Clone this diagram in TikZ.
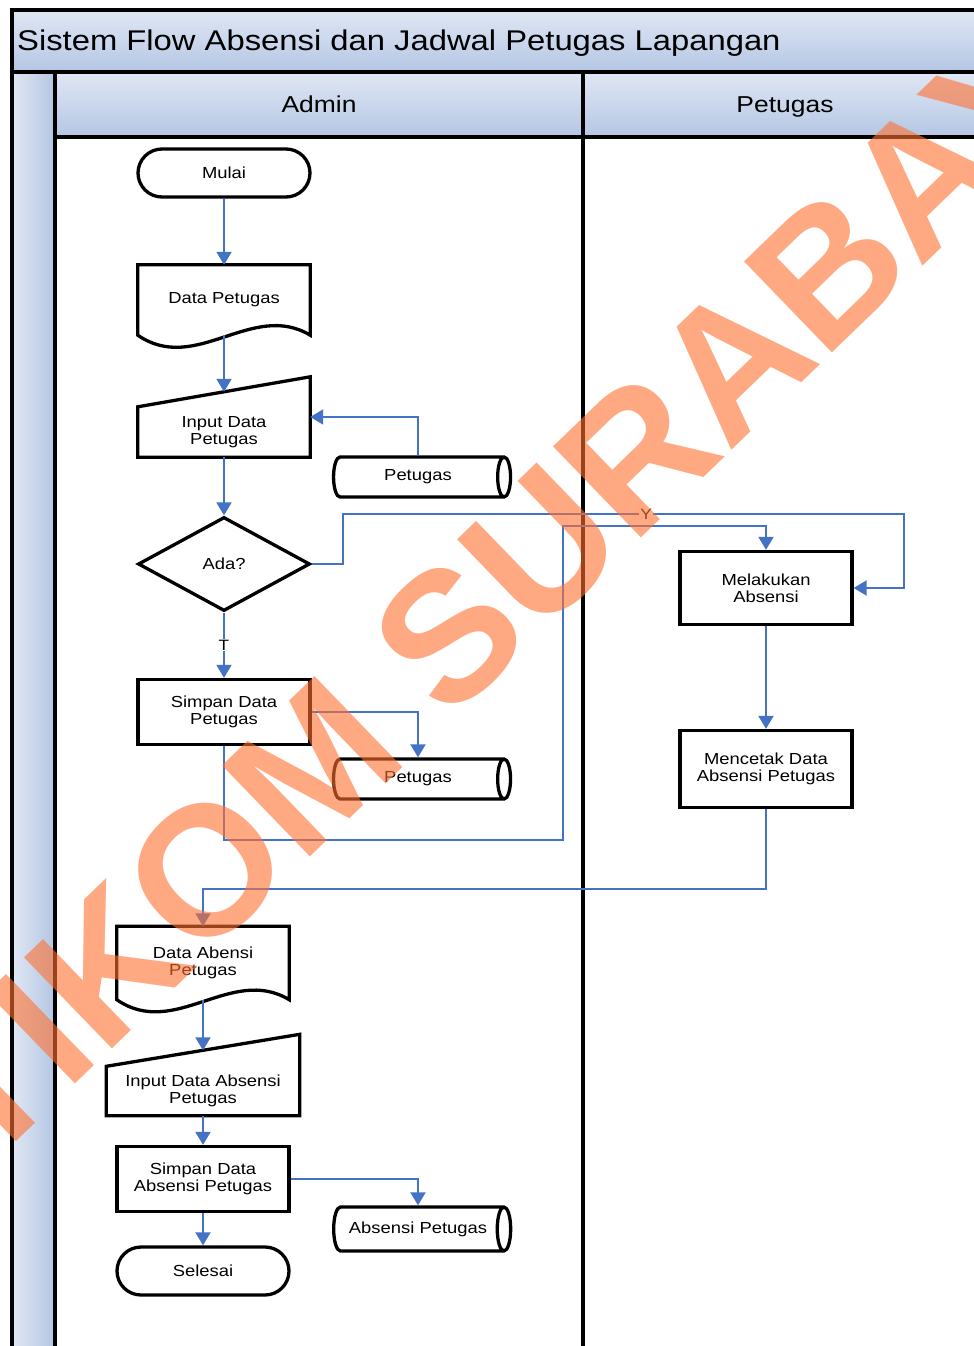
\documentclass[tikz,border=0pt]{standalone}
\usepackage{fontspec}
\setmainfont{Liberation Sans}[FakeStretch=1.15]
\newfontfamily\wmfont{Liberation Sans}
\usetikzlibrary{arrows.meta}
\usetikzlibrary{shapes}
\usetikzlibrary{positioning}
\definecolor{flowblue}{RGB}{68,114,196}
\definecolor{lanetop}{RGB}{224,231,244}
\definecolor{lanebot}{RGB}{180,198,228}
\definecolor{wmorange}{RGB}{255,112,48}

\begin{document}
\begin{tikzpicture}[x=1pt,y=-1pt,
  every node/.style={font=\fontsize{16}{17}\selectfont,align=center,inner sep=0pt},
  lane/.style={line width=3.5pt},
  outline/.style={line width=3.3pt},
  terminal/.style={draw,line width=3.3pt,rounded corners=24pt,minimum width=172pt,minimum height=48pt},
  procbox/.style={draw,line width=3.3pt,minimum width=172pt,minimum height=65pt},
  decision/.style={draw,diamond,line width=3.3pt,minimum width=172pt,minimum height=94pt,aspect=1.83},
  store/.style={draw,cylinder,shape aspect=0.9,line width=3.3pt,minimum height=177pt,minimum width=40pt},
  shapebox/.style={minimum width=172pt},
  flow/.style={draw=flowblue,line width=2pt,-{Triangle[width=15pt,length=13pt]}},
  flowlabel/.style={fill=white,inner sep=1pt,font=\fontsize{15}{15}\selectfont}]
  \useasboundingbox (0,0) rectangle (974,1346);
  \clip (0,0) rectangle (974,1346);
  % swimlanes
  \shade[top color=lanetop,bottom color=lanebot] (12,10) rectangle (990,72);
  \shade[left color=lanetop,right color=lanebot] (12,72) rectangle (55,1360);
  \shade[top color=lanetop,bottom color=lanebot] (55,72) rectangle (990,137);
  \draw[lane] (990,10) -| (12,1360);
  \draw[lane] (12,72) -- (990,72);
  \draw[lane] (55,137) -- (990,137);
  \draw[lane] (55,72) -- (55,1360);
  \draw[lane] (583,72) -- (583,1360);
  \node[anchor=base west,font=\fontsize{28.5}{30}\selectfont] (title) at (17,51) {Sistem Flow Absensi dan Jadwal Petugas Lapangan};
  \node[anchor=base,font=\fontsize{23}{24}\selectfont] (admin) at (319,112) {Admin};
  \node[anchor=base,font=\fontsize{23}{24}\selectfont] (petugas) at (785,112) {Petugas};
  % admin
  \node[terminal] (mulai) at (224,173) {Mulai};
  \node[shapebox,minimum height=70pt] (dpt) at (224,300) {Data Petugas};
  \draw[outline] (dpt.south west) -- (dpt.north west) -- (dpt.north east) -- (dpt.south east)
    .. controls +(-58,-35) and +(58,40) .. (dpt.south west) -- cycle;
  \node[shapebox,minimum height=50pt] (ipt) at (224,432) {Input Data\\Petugas};
  \draw[outline] (ipt.north west) -- ([yshift=30pt]ipt.north east) -- (ipt.south east) -- (ipt.south west) -- cycle;
  \node[store] (pt1) at (418,477) {Petugas};
  \node[decision] (ada) at (224,564) {Ada?};
  \node[procbox] (spt) at (224,712) {Simpan Data\\Petugas};
  \node[store] (pt2) at (418,779) {Petugas};
  \node[shapebox,minimum height=73pt] (dab) at (203,963) {Data Abensi\\Petugas};
  \draw[outline] (dab.south west) -- (dab.north west) -- (dab.north east) -- (dab.south east)
    .. controls +(-58,-35) and +(58,40) .. (dab.south west) -- cycle;
  \node[shapebox,minimum width=193pt,minimum height=49pt] (ipa) at (203,1091) {Input Data Absensi\\Petugas};
  \draw[outline] (ipa.north west) -- ([yshift=32pt]ipa.north east) -- (ipa.south east) -- (ipa.south west) -- cycle;
  \node[procbox] (spa) at (203,1179) {Simpan Data\\Absensi Petugas};
  \node[store,minimum width=44pt] (pab) at (418,1229) {Absensi Petugas};
  \node[terminal] (sls) at (203,1271) {Selesai};
  % petugas
  \node[procbox,minimum height=73pt] (mlk) at (766,588) {Melakukan\\Absensi};
  \node[procbox,minimum height=77pt] (mct) at (766,769) {Mencetak Data\\Absensi Petugas};
  % arus
  \draw[flow] (mulai) -- (dpt);
  \draw[flow] (dpt.south) -- ([yshift=15pt]ipt.north);
  \draw[flow] (pt1.north) |- ([yshift=15pt]ipt.east);
  \draw[flow] (ipt) -- (ada);
  \draw[flow] (ada) -- (spt);
  \draw[flow] (ada.east) -- ++(31,0) -- ++(0,-50) -| ([xshift=50pt]mlk.east) -- (mlk.east);
  \draw[flow] (spt.east) -| (pt2.north);
  \draw[flow] (spt.south) -- ++(0,94) -- ++(339,0) |- ([yshift=24pt]mlk.north) -- (mlk.north);
  \draw[flow] (mlk) -- (mct);
  \draw[flow] (mct.south) -- ++(0,80) -| (dab.north);
  \draw[flow] (dab.south) -- ([yshift=16pt]ipa.north);
  \draw[flow] (ipa) -- (spa);
  \draw[flow] (spa.east) -| (pab.north);
  \draw[flow] (spa) -- (sls);
  \node[flowlabel] (ylab) at (646,514) {Y};
  \node[flowlabel] (tlab) at (224,645) {T};
  % watermark
  \node[rotate=44,text=wmorange,text opacity=0.6,font=\wmfont\bfseries\fontsize{184}{184}\selectfont] (wmark) at (492,594) {STIKOM SURABAYA};
\end{tikzpicture}
\end{document}
